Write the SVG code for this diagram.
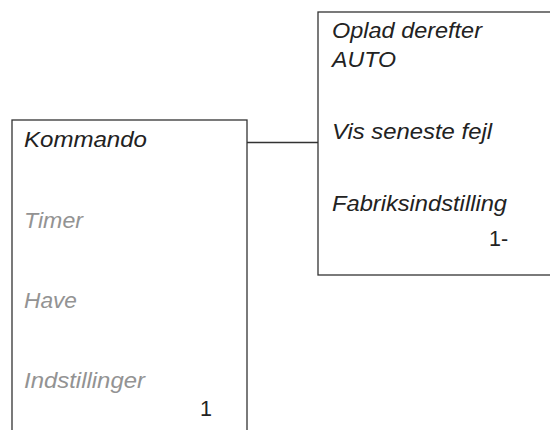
<svg xmlns="http://www.w3.org/2000/svg" width="550" height="430" viewBox="0 0 550 430">
<style>
.box{fill:#fff;stroke:#333;stroke-width:1.3}
.conn{stroke:#333;stroke-width:1.3;fill:none}
.t{font-family:"Liberation Sans",Arial,sans-serif;font-size:21.5px;font-style:italic;fill:#222}
.g{fill:#939393}
.n{font-family:"Liberation Sans",Arial,sans-serif;font-size:21.5px;fill:#222}
</style>
<rect width="550" height="430" fill="#fff"/>
<g id="connectors">
<line class="conn" x1="247" y1="142.5" x2="318" y2="142.5"/>
</g>
<g id="menu">
<rect class="box" x="12" y="120" width="235" height="330"/>
<text class="t" x="24" y="147" textLength="123" lengthAdjust="spacingAndGlyphs">Kommando</text>
<text class="t g" x="24" y="228" textLength="59" lengthAdjust="spacingAndGlyphs">Timer</text>
<text class="t g" x="24" y="308" textLength="53" lengthAdjust="spacingAndGlyphs">Have</text>
<text class="t g" x="24" y="388" textLength="121" lengthAdjust="spacingAndGlyphs">Indstillinger</text>
<text class="n" x="200" y="416">1</text>
</g>
<g id="submenu">
<rect class="box" x="318" y="12" width="260" height="263"/>
<text class="t" x="332" y="38" textLength="150" lengthAdjust="spacingAndGlyphs">Oplad derefter</text>
<text class="t" x="332" y="66.5" textLength="64" lengthAdjust="spacingAndGlyphs">AUTO</text>
<text class="t" x="332" y="139" textLength="160" lengthAdjust="spacingAndGlyphs">Vis seneste fejl</text>
<text class="t" x="332" y="211" textLength="175" lengthAdjust="spacingAndGlyphs">Fabriksindstilling</text>
<text class="n" x="489" y="246">1-</text>
</g>
</svg>
